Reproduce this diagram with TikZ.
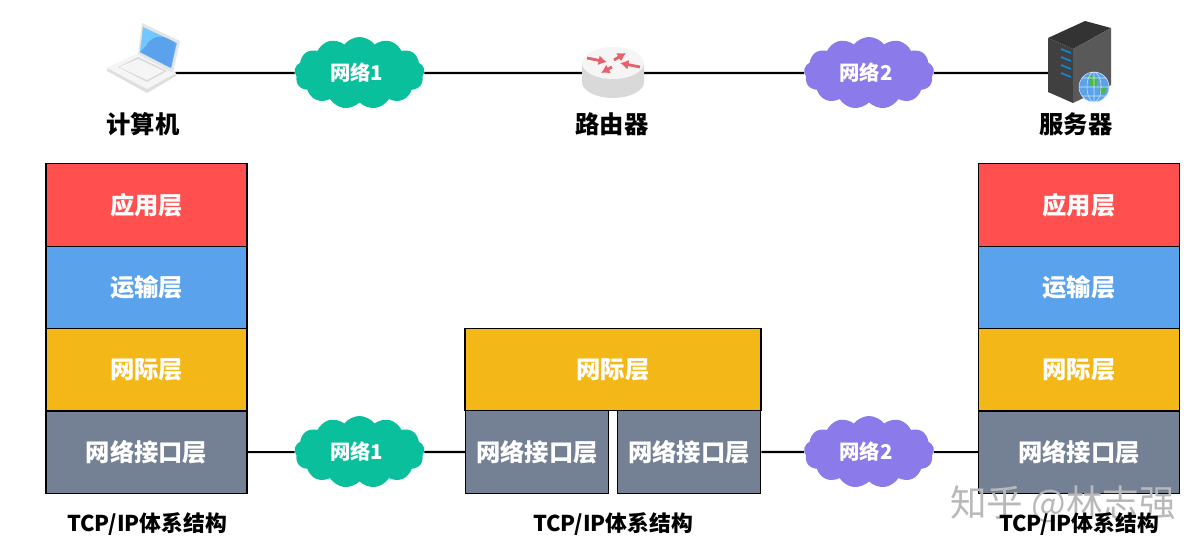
\documentclass[tikz,border=0pt]{standalone}
\usepackage{fontspec}
\usepackage{xcolor}
\usepackage{tikz}
\usetikzlibrary{shapes.symbols,arrows.meta}
\setmainfont{Noto Sans CJK SC}
\definecolor{appred}{HTML}{FF4F4F}
\definecolor{tcpblue}{HTML}{5AA2EC}
\definecolor{ipyellow}{HTML}{F3B718}
\definecolor{linkgray}{HTML}{748094}
\definecolor{netgreen}{HTML}{0ABF9B}
\definecolor{netpurple}{HTML}{8B7BEA}
\definecolor{tipred}{HTML}{E8606A}
\begin{document}
\begin{tikzpicture}[x=0.025cm, y=-0.025cm, node distance=2.06cm,
      layer/.style={draw, line width=0.9pt, rectangle, minimum width=5.03cm, minimum height=2.06cm, align=center, text=white, font=\fontsize{17.3}{20}\selectfont\bfseries},
      halflayer/.style={layer, minimum width=3.58cm},
      cloudnet/.style={cloud, cloud puffs=13, cloud puff arc=105, aspect=1.9, minimum width=3.25cm, minimum height=1.8cm, inner sep=0pt, text=white, font=\fontsize{14.5}{17}\selectfont\bfseries},
      caption/.style={font=\fontsize{17.3}{20}\selectfont\bfseries},
      stack/.style={font=\fontsize{15.5}{18}\selectfont\bfseries},
      link/.style={line width=1.5pt},
      redtip/.style={draw=tipred, line width=2pt, -{Latex[length=6pt,width=7pt]}}]
    \useasboundingbox (0,0) rectangle (1204,553);

    \node[layer, fill=appred] (app1) at (146.5,205) {应用层};
    \node[layer, fill=tcpblue, below of=app1] (tcp1) {运输层};
    \node[layer, fill=ipyellow, below of=tcp1] (ip1) {网际层};
    \node[layer, fill=linkgray, below of=ip1] (if1) {网络接口层};

    \node[layer, fill=appred] (app2) at (1079,205) {应用层};
    \node[layer, fill=tcpblue, below of=app2] (tcp2) {运输层};
    \node[layer, fill=ipyellow, below of=tcp2] (ip2) {网际层};
    \node[layer, fill=linkgray, below of=ip2] (if2) {网络接口层};

    \node[layer, fill=ipyellow, minimum width=7.4cm] (iprt) at (613,369.5) {网际层};
    \node[halflayer, fill=linkgray] (ifrt1) at (537,452) {网络接口层};
    \node[halflayer, fill=linkgray] (ifrt2) at (689,452) {网络接口层};

    \node[cloudnet, fill=netgreen] (net1) at (359.5,73) {\hspace*{-4pt}网络1};
    \node[cloudnet, fill=netpurple] (net2) at (869,73) {\hspace*{-4pt}网络2};
    \node[cloudnet, fill=netgreen] (net3) at (359.5,452) {\hspace*{-4pt}网络1};
    \node[cloudnet, fill=netpurple] (net4) at (869,452) {\hspace*{-4pt}网络2};

    \coordinate (pc) at (175,73);
    \node[minimum width=1.5cm, minimum height=1cm, inner sep=0pt] (router) at (613,73) {};
    \coordinate (server) at (1050,73);

    \draw[link] (pc) -- (net1);
    \draw[link] (net1) -- (router);
    \draw[link] (router) -- (net2);
    \draw[link] (net2) -- (server);
    \draw[link] (if1) -- (net3);
    \draw[link] (net3) -- (ifrt1);
    \draw[link] (ifrt2) -- (net4);
    \draw[link] (net4) -- (if2);

    % laptop
    \fill[gray!25] (107,71) -- (147,93) -- (176,76) -- (176,73) -- (138,54) -- (107,68) -- cycle;
    \fill[gray!8] (107,68) -- (147,89) -- (176,73) -- (138,53) -- cycle;
    \fill[gray!30] (118,67) -- (147,82) -- (167,71) -- (138,57) -- cycle;
    \fill[gray!8] (119,67) -- (147,80) -- (164,71) -- (138,59) -- cycle;
    \fill[gray!20] (142,23) -- (180,41) -- (173,73) -- (138,54) -- cycle;
    \fill[blue!40!cyan!55!white] (143,27) -- (177,43) -- (171,68) -- (140,52) -- cycle;
    \fill[tcpblue] (146,46) .. controls (153,33) and (166,35) .. (176,44) -- (171,68) -- (140,52) -- cycle;

    % router
    \fill[gray!30] (582,63) -- (582,82) arc[start angle=180, end angle=0, x radius=31, y radius=16] -- (644,63) -- cycle;
    \fill[gray!8] (613,63) ellipse[x radius=31, y radius=16];
    \draw[redtip] (587,58) -- (607,62);
    \draw[redtip] (640,67) -- (620,63);
    \draw[redtip] (614,60) -- (626,53);
    \draw[redtip] (612,67) -- (601,73);

    % server
    \fill[black!80] (1048,38) -- (1085,21) -- (1111,28) -- (1073,49) -- cycle;
    \fill[black!75] (1048,38) -- (1073,49) -- (1073,103) -- (1048,92) -- cycle;
    \fill[black!65] (1073,49) -- (1111,28) -- (1111,85) -- (1073,103) -- cycle;
    \draw[cyan!70!blue, line width=1.2pt] (1061,49) -- (1071,53) (1061,57) -- (1071,61) (1061,65) -- (1071,69) (1061,73) -- (1071,77);
    \fill[tcpblue] (1094,87) circle[radius=15];
    \fill[green!60!black!70] (1088,75) -- (1098,78) -- (1096,88) -- (1090,85) -- cycle;
    \fill[green!60!black!70] (1100,88) -- (1107,86) -- (1104,94) -- (1099,94) -- cycle;
    \draw[white!70!tcpblue, line width=0.4pt] (1094,87) circle[radius=15] (1094,87) ellipse[x radius=7, y radius=15] (1079,87) -- (1109,87) (1082,78) -- (1106,78) (1082,96) -- (1106,96) (1094,72) -- (1094,102);

    \node[caption] (pclabel) at (143,124) {计算机};
    \node[caption] (rtlabel) at (612,124) {路由器};
    \node[caption] (srvlabel) at (1076,124) {服务器};

    \node[text=gray!55, font=\fontsize{26}{29}\selectfont] (mark) at (1063,504) {知乎 @林志强};

    \node[stack] (stack1) at (147,524) {TCP/IP体系结构};
    \node[stack] (stack2) at (613,524) {TCP/IP体系结构};
    \node[stack] (stack3) at (1079,524) {TCP/IP体系结构};
  \end{tikzpicture}
\end{document}
